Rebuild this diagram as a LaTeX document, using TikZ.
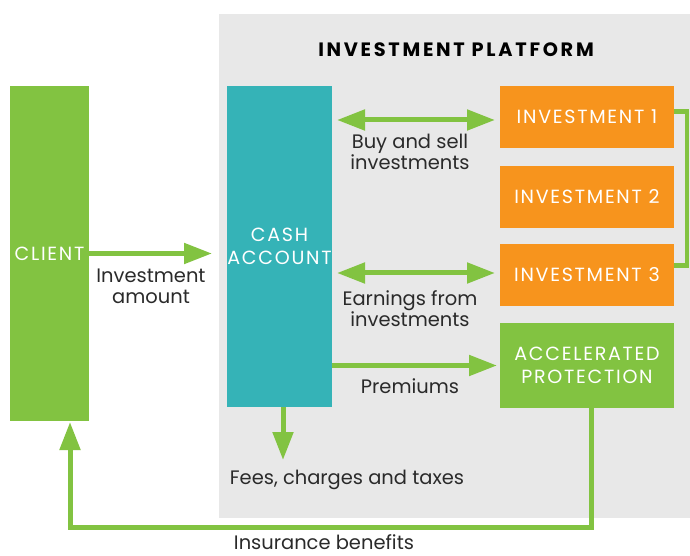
\documentclass[tikz,border=0pt]{standalone}
\usepackage{fontspec}
\setmainfont{Poppins}
\newfontfamily\capsfont[LetterSpace=9]{Poppins}
\newfontfamily\titlefont[LetterSpace=14]{Poppins}
\usetikzlibrary{arrows.meta}
\definecolor{cgreen}{HTML}{82C341}
\definecolor{cteal}{HTML}{35B3B7}
\definecolor{corange}{HTML}{F7941D}
\definecolor{cpanel}{HTML}{E8E8E8}
\definecolor{ctext}{HTML}{2A2A2A}
\tikzset{
  box/.style={inner sep=0pt, outer sep=0pt, text=white, align=center, font=\capsfont\fontsize{14.3}{17.6}\selectfont},
  lbl/.style={text=ctext, align=center, font=\fontsize{14.6}{15.7}\selectfont, inner sep=0pt},
  arr/.style={draw=cgreen, line width=3.75pt, -{Triangle[length=21pt,width=15pt]}},
  darr/.style={draw=cgreen, line width=3.75pt, {Triangle[length=21pt,width=15pt]}-{Triangle[length=21pt,width=15pt]}},
  gline/.style={draw=cgreen, line width=3.6pt},
}
\begin{document}
\begin{tikzpicture}[x=0.75pt,y=-0.75pt]
\useasboundingbox (0,0) rectangle (690,556);
\fill[cpanel] (219,14) rectangle (690,518);
\node[text=black, inner sep=0pt, font=\titlefont\bfseries\fontsize{14.5}{16}\selectfont] (title) at (456,50) {INVESTMENT PLATFORM};
\node[box, fill=cgreen, minimum width=59.25pt, minimum height=251.25pt] (client) at (49.5,253.5) {CLIENT};
\node[box, fill=cteal, minimum width=78.75pt, minimum height=240.75pt] (cash) at (279.5,246.5) {CASH\\ACCOUNT};
\node[box, fill=corange, minimum width=130.5pt, minimum height=46.5pt] (inv1) at (587,117) {INVESTMENT 1};
\node[box, fill=corange, minimum width=130.5pt, minimum height=46.5pt] (inv2) at (587,197) {INVESTMENT 2};
\node[box, fill=corange, minimum width=130.5pt, minimum height=46.5pt] (inv3) at (587,275) {INVESTMENT 3};
\node[box, fill=cgreen, minimum width=130.5pt, minimum height=63.75pt] (accel) at (587,365.5) {ACCELERATED\\PROTECTION};
% connectors
\draw[arr, shorten >=11.25pt] (client.east) -- (cash.west |- client.east);
\coordinate (bs) at (0,120);
\coordinate (ea) at (0,273);
\draw[darr, shorten <=3.75pt, shorten >=3.75pt] (cash.east |- bs) -- (inv1.west |- bs);
\draw[darr, shorten <=3.75pt, shorten >=3.75pt] (cash.east |- ea) -- (inv3.west |- ea);
\draw[arr, shorten >=2.25pt] (cash.east |- accel.west) -- (accel.west);
\coordinate (feesend) at (283,460);
\draw[arr] (cash.south -| feesend) -- (feesend);
\coordinate (ibr) at (591,527);
\coordinate (ibl) at (70,527);
\draw[arr, shorten >=0.75pt] (accel.south -| ibr) -- (ibr) -- (ibl) -- (client.south -| ibl);
\coordinate (bt) at (687,111.5);
\coordinate (bb) at (687,265.5);
\draw[gline] (inv1.east |- bt) -- (bt) -- (bb) -- (inv3.east |- bb);
% labels
\node[lbl] (lbs) at (410,152) {Buy and sell\\investments};
\node[lbl] (lea) at (410,309) {Earnings from\\investments};
\node[lbl] (lpr) at (410,386) {Premiums};
\node[lbl] (lia) at (151,286) {Investment\\amount};
\node[lbl] (lfe) at (347,480) {Fees, charges and taxes};
\node[lbl] (lib) at (324,542) {Insurance benefits};
\end{tikzpicture}
\end{document}
